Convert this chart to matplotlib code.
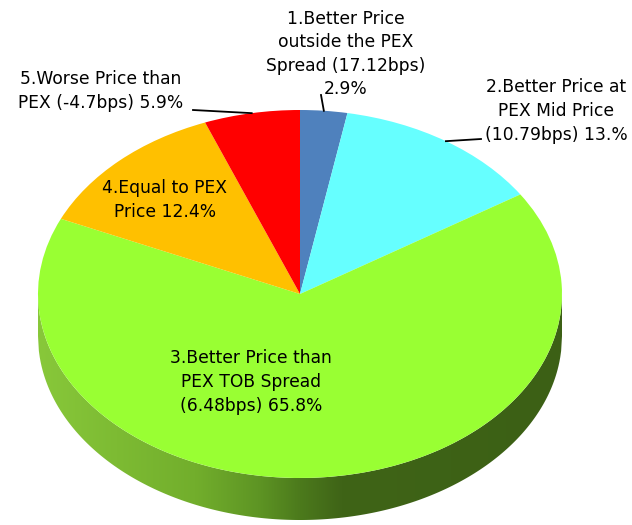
import numpy as np
import matplotlib
matplotlib.use("Agg")
import matplotlib.pyplot as plt
from matplotlib.colors import LinearSegmentedColormap
from matplotlib.patches import Polygon

# slice data (clockwise from 12 o'clock)
labels = [
    "1.Better Price\noutside the PEX\nSpread (17.12bps)\n2.9%",
    "2.Better Price at\nPEX Mid Price\n(10.79bps) 13.%",
    "3.Better Price than\nPEX TOB Spread\n(6.48bps) 65.8%",
    "4.Equal to PEX\nPrice 12.4%",
    "5.Worse Price than\nPEX (-4.7bps) 5.9%",
]
shares = [2.9, 13.0, 65.8, 12.4, 5.9]
colors = ["#4f81bd", "#66ffff", "#99ff33", "#ffc000", "#ff0000"]

# figure geometry in pixels
W, H = 632, 525
CX, CY, RX, RY, DEPTH = 300, 294, 262, 184, 42


def px(x, y):
    # pixel position -> data units of the elliptic pie
    return (x - CX) / RX, (CY - y) / RY


fig = plt.figure(figsize=(W / 100, H / 100), dpi=100)
ax = fig.add_axes([0, 0, 1, 1])

ax.pie(shares, colors=colors, startangle=90, counterclock=False, radius=1,
       wedgeprops=dict(linewidth=0, antialiased=True))

# front wall of the 3D pie, shaded left->right
d = DEPTH / RY
xs = np.linspace(-1, 1, 600)
top = -np.sqrt(np.clip(1 - xs ** 2, 0, None))
wall = np.r_[np.c_[xs, top], np.c_[xs[::-1], top[::-1] - d]]
clip = Polygon(wall, closed=True, facecolor="none", edgecolor="none")
ax.add_patch(clip)
wall_cmap = LinearSegmentedColormap.from_list(
    "wall", [(0, "#88c83a"), (0.3, "#72ae2c"), (0.42, "#5e9524"),
             (0.5, "#4c7a1c"), (0.58, "#3f6417"), (1, "#3c6015")])
im = ax.imshow(np.linspace(0, 1, 256)[None, :], cmap=wall_cmap,
               extent=(-1, 1, -1 - d, 0.02), aspect="auto", zorder=0,
               interpolation="bilinear")
im.set_clip_path(clip)

ax.set_aspect("auto")
ax.set_xlim(-CX / RX, (W - CX) / RX)
ax.set_ylim((CY - H) / RY, CY / RY)
ax.axis("off")

# labels
fs = 12.3
pos = [(346, 54), (556, 111), (251, 382), (165, 200), (101, 91)]
for lab, (x, y) in zip(labels, pos):
    ax.text(*px(x, y), lab, ha="center", va="center", multialignment="center",
            fontsize=fs, family="DejaVu Sans", linespacing=1.4, zorder=5)

# leader lines to slice mid-angles on the rim
cum = np.cumsum(shares)
mids = np.deg2rad((cum - np.array(shares) / 2) / 100 * 360)
starts = {0: (321, 95), 1: (481, 139), 4: (193, 110)}
for i, (sx, sy) in starts.items():
    x0, y0 = px(sx, sy)
    ax.plot([x0, np.sin(mids[i])], [y0, np.cos(mids[i])], color="black", lw=1.3, zorder=4)

fig.savefig("out.png", dpi=100)
